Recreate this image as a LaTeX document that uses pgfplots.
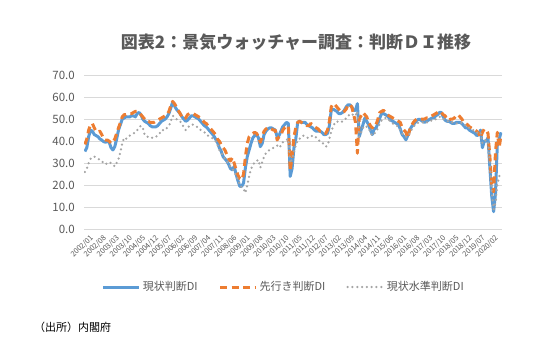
\documentclass[border=0pt]{standalone}
\usepackage{fontspec}
\setmainfont{Noto Sans CJK JP}
\usepackage{pgfplots}
\usepackage{pgfplotstable}
\pgfplotsset{compat=1.18}
\definecolor{cblue}{HTML}{5B9BD5}
\definecolor{corange}{HTML}{ED7D31}
\definecolor{cgray}{HTML}{A5A5A5}
\definecolor{gridc}{HTML}{D9D9D9}
\definecolor{txt}{HTML}{595959}
\pgfplotstableread{
cur fut lvl
35.3 38.5 26.0
37.0 41.0 27.5
42.0 45.0 30.0
45.0 47.5 32.0
44.5 48.0 32.5
43.0 46.0 33.0
42.5 44.5 32.5
42.0 44.0 32.0
41.0 44.5 31.5
40.5 43.0 31.0
39.8 41.0 30.0
39.5 40.5 29.5
39.8 40.5 30.0
39.5 40.0 30.5
37.0 39.0 30.0
36.0 39.5 29.5
37.5 41.0 28.5
41.0 43.5 30.0
45.0 46.0 32.0
47.5 48.5 35.0
50.0 51.0 39.0
50.5 52.0 41.5
51.0 52.0 41.0
51.0 52.5 42.0
51.0 52.5 42.5
51.5 52.5 43.0
51.5 53.0 43.5
51.0 53.5 44.0
52.5 53.5 45.0
53.0 53.0 46.0
52.0 52.0 47.0
50.0 51.0 46.0
49.0 50.0 43.0
48.5 49.0 42.0
48.0 49.0 42.0
47.0 48.5 41.5
46.5 48.5 41.5
46.5 48.5 41.5
46.5 49.0 42.0
47.0 49.5 42.5
48.0 50.0 43.5
49.0 50.5 45.0
49.5 51.0 45.0
50.0 51.5 45.0
51.0 52.0 46.0
52.5 53.5 47.0
55.0 56.0 49.0
57.7 58.0 51.5
56.0 57.0 51.0
54.5 55.5 50.0
53.5 54.0 49.5
52.5 52.5 49.0
51.0 51.0 48.0
50.0 50.0 46.0
49.0 50.5 45.0
49.5 52.0 46.0
50.5 52.5 47.0
51.5 52.5 47.5
51.5 52.5 47.5
51.0 52.0 47.0
50.5 51.5 46.5
50.0 51.0 46.0
49.0 50.5 45.0
48.0 49.5 44.5
47.0 48.5 44.0
46.5 48.0 43.5
45.5 47.0 42.5
44.5 46.0 42.0
43.5 45.0 41.5
42.5 44.0 41.0
41.0 43.0 40.0
39.5 41.0 38.5
37.0 40.0 36.0
35.5 38.5 35.0
33.0 37.0 33.5
32.0 36.0 32.0
31.0 34.0 31.0
29.5 32.0 29.5
27.5 31.0 28.5
27.0 32.5 27.5
28.5 30.0 26.0
25.0 27.0 24.5
22.0 24.5 22.5
19.5 23.0 20.0
19.5 22.5 19.0
21.0 25.0 18.5
28.0 33.0 16.5
33.0 39.0 20.0
36.0 42.0 24.0
39.0 43.0 27.5
41.5 43.5 29.0
42.5 44.0 30.5
43.0 43.5 31.0
41.5 42.0 31.5
37.5 39.5 28.0
39.0 42.0 30.5
43.0 44.5 33.0
44.5 45.5 34.5
45.5 46.0 35.5
46.0 46.0 36.0
46.0 45.5 36.5
45.5 45.0 37.0
45.0 45.0 37.5
42.0 40.5 38.0
42.5 42.0 37.0
44.5 42.5 38.0
46.5 45.0 39.5
47.5 46.0 40.0
48.5 46.5 40.5
48.0 47.0 41.0
24.0 26.5 30.0
27.5 33.0 32.0
37.0 42.0 35.0
41.0 46.0 38.0
48.5 48.5 40.5
49.0 49.0 41.0
48.5 48.5 42.0
48.5 48.0 42.5
48.5 47.5 42.0
47.5 47.0 41.5
47.0 47.0 41.5
46.5 48.0 42.0
46.0 47.5 42.5
45.0 46.5 42.5
44.5 46.0 41.5
44.5 45.5 40.5
44.5 44.5 40.0
44.0 44.5 39.5
43.0 44.0 38.5
43.0 43.5 37.5
43.5 45.0 38.0
47.0 49.0 41.0
54.0 55.5 44.5
54.5 57.0 46.5
54.0 56.5 48.5
53.5 55.5 49.0
52.5 54.5 48.5
52.5 53.5 48.5
53.0 53.0 49.0
54.0 53.5 49.5
55.5 54.5 50.5
56.5 56.5 51.5
56.5 56.5 52.0
55.5 55.5 52.5
54.0 52.0 51.5
54.0 48.5 51.5
57.0 34.5 53.5
42.0 50.0 42.0
45.0 51.5 44.0
47.5 53.0 46.0
50.5 52.0 47.0
49.0 51.0 46.5
47.5 48.5 46.0
45.0 47.0 44.0
43.0 46.0 42.5
45.5 47.5 43.5
46.0 47.5 44.0
48.0 50.0 46.0
50.5 53.0 48.0
52.5 53.5 49.5
52.5 54.0 50.0
52.0 53.0 50.5
51.5 52.0 50.0
50.5 51.5 49.5
49.5 51.0 48.5
49.0 50.5 48.0
48.5 50.0 47.5
48.0 49.5 47.0
47.5 49.0 46.5
45.5 48.5 45.0
43.0 46.0 43.5
42.0 45.0 42.5
40.6 44.0 42.0
42.5 41.5 42.0
45.0 45.0 43.5
46.5 47.0 45.0
47.5 48.5 46.5
48.5 49.5 47.5
49.5 50.0 48.0
50.0 50.0 48.5
49.5 50.0 48.5
49.0 50.0 48.5
48.5 50.0 48.0
49.0 50.5 48.5
49.5 50.5 48.5
50.0 51.0 49.0
50.5 51.5 49.5
50.5 52.0 49.5
51.5 52.5 50.0
52.0 53.0 50.5
53.0 53.5 51.0
53.0 53.0 51.0
51.0 52.0 50.0
49.5 51.5 49.5
49.0 50.0 49.0
49.0 49.5 49.0
48.5 50.0 48.5
48.0 50.0 48.5
48.0 50.5 48.0
48.5 51.5 48.0
48.5 52.0 48.0
48.5 51.0 48.0
48.0 50.0 48.5
47.0 48.5 48.0
46.0 48.0 47.0
46.0 47.5 46.5
45.0 46.5 46.0
44.5 46.0 45.5
44.0 45.5 45.0
43.5 45.0 44.5
42.5 44.5 44.0
43.0 43.5 43.5
45.0 41.5 44.0
37.0 44.0 39.0
40.0 45.5 40.0
40.0 45.0 40.5
41.5 43.5 40.0
28.0 33.0 30.0
15.0 20.0 17.0
8.0 17.0 9.0
16.0 35.0 12.0
38.8 44.0 20.0
41.0 37.0 24.0
44.0 43.0 26.0
}\data
\begin{document}
\begin{tikzpicture}
\path[use as bounding box] (0bp,0bp) rectangle (559bp,353bp);
\node[font=\bfseries\fontsize{17bp}{20bp}\selectfont, text=txt] at (296bp,311bp) {図表2：景気ウォッチャー調査：判断ＤＩ推移};
\node[anchor=west, inner sep=0pt, font=\fontsize{11bp}{13bp}\selectfont] at (34bp,26bp) {（出所）内閣府};
\begin{axis}[
  at={(84bp,123.7bp)}, anchor=south west,
  scale only axis, width=418bp, height=154.3bp,
  xmin=-0.5, xmax=223.5, ymin=0, ymax=70,
  ytick={0,10,...,70},
  xtick={0,7,...,217},
  xticklabels={2002/01,2002/08,2003/03,2003/10,2004/05,2004/12,2005/07,2006/02,2006/09,2007/04,2007/11,2008/06,2009/01,2009/08,2010/03,2010/10,2011/05,2011/12,2012/07,2013/02,2013/09,2014/04,2014/11,2015/06,2016/01,2016/08,2017/03,2017/10,2018/05,2018/12,2019/07,2020/02},
  axis line style={draw=none},
  ymajorgrids, grid style={color=gridc, line width=0.8bp},
  major tick length=0pt,
  yticklabel style={inner sep=0pt, anchor=east, xshift=-9bp, text=txt, font=\fontsize{11.5bp}{13bp}\selectfont,
    /pgf/number format/.cd, fixed, fixed zerofill, precision=1, assume math mode=true},
  xticklabel style={rotate=45, anchor=east, inner sep=0pt, yshift=-10bp, text=txt, font=\fontsize{7.5bp}{9bp}\selectfont},
  legend style={at={(0.478,-0.374)}, anchor=center, draw=none, fill=none, legend columns=3,
    font=\fontsize{11bp}{13bp}\selectfont, text=txt,
    /tikz/every even column/.append style={column sep=19bp}},
  legend image code/.code={\draw[#1] (0bp,0bp) -- (36bp,0bp);},
]
\addplot[cblue, line width=3bp, line join=round] table[x expr=\coordindex, y=cur] {\data};
\addlegendentry{現状判断DI}
\addplot[corange, line width=3bp, dash pattern=on 7bp off 4.5bp, line join=round] table[x expr=\coordindex, y=fut] {\data};
\addlegendentry{先行き判断DI}
\addplot[cgray, line width=2.5bp, dash pattern=on 0bp off 4.8bp, line cap=round] table[x expr=\coordindex, y=lvl] {\data};
\addlegendentry{現状水準判断DI}
\end{axis}
\end{tikzpicture}
\end{document}
